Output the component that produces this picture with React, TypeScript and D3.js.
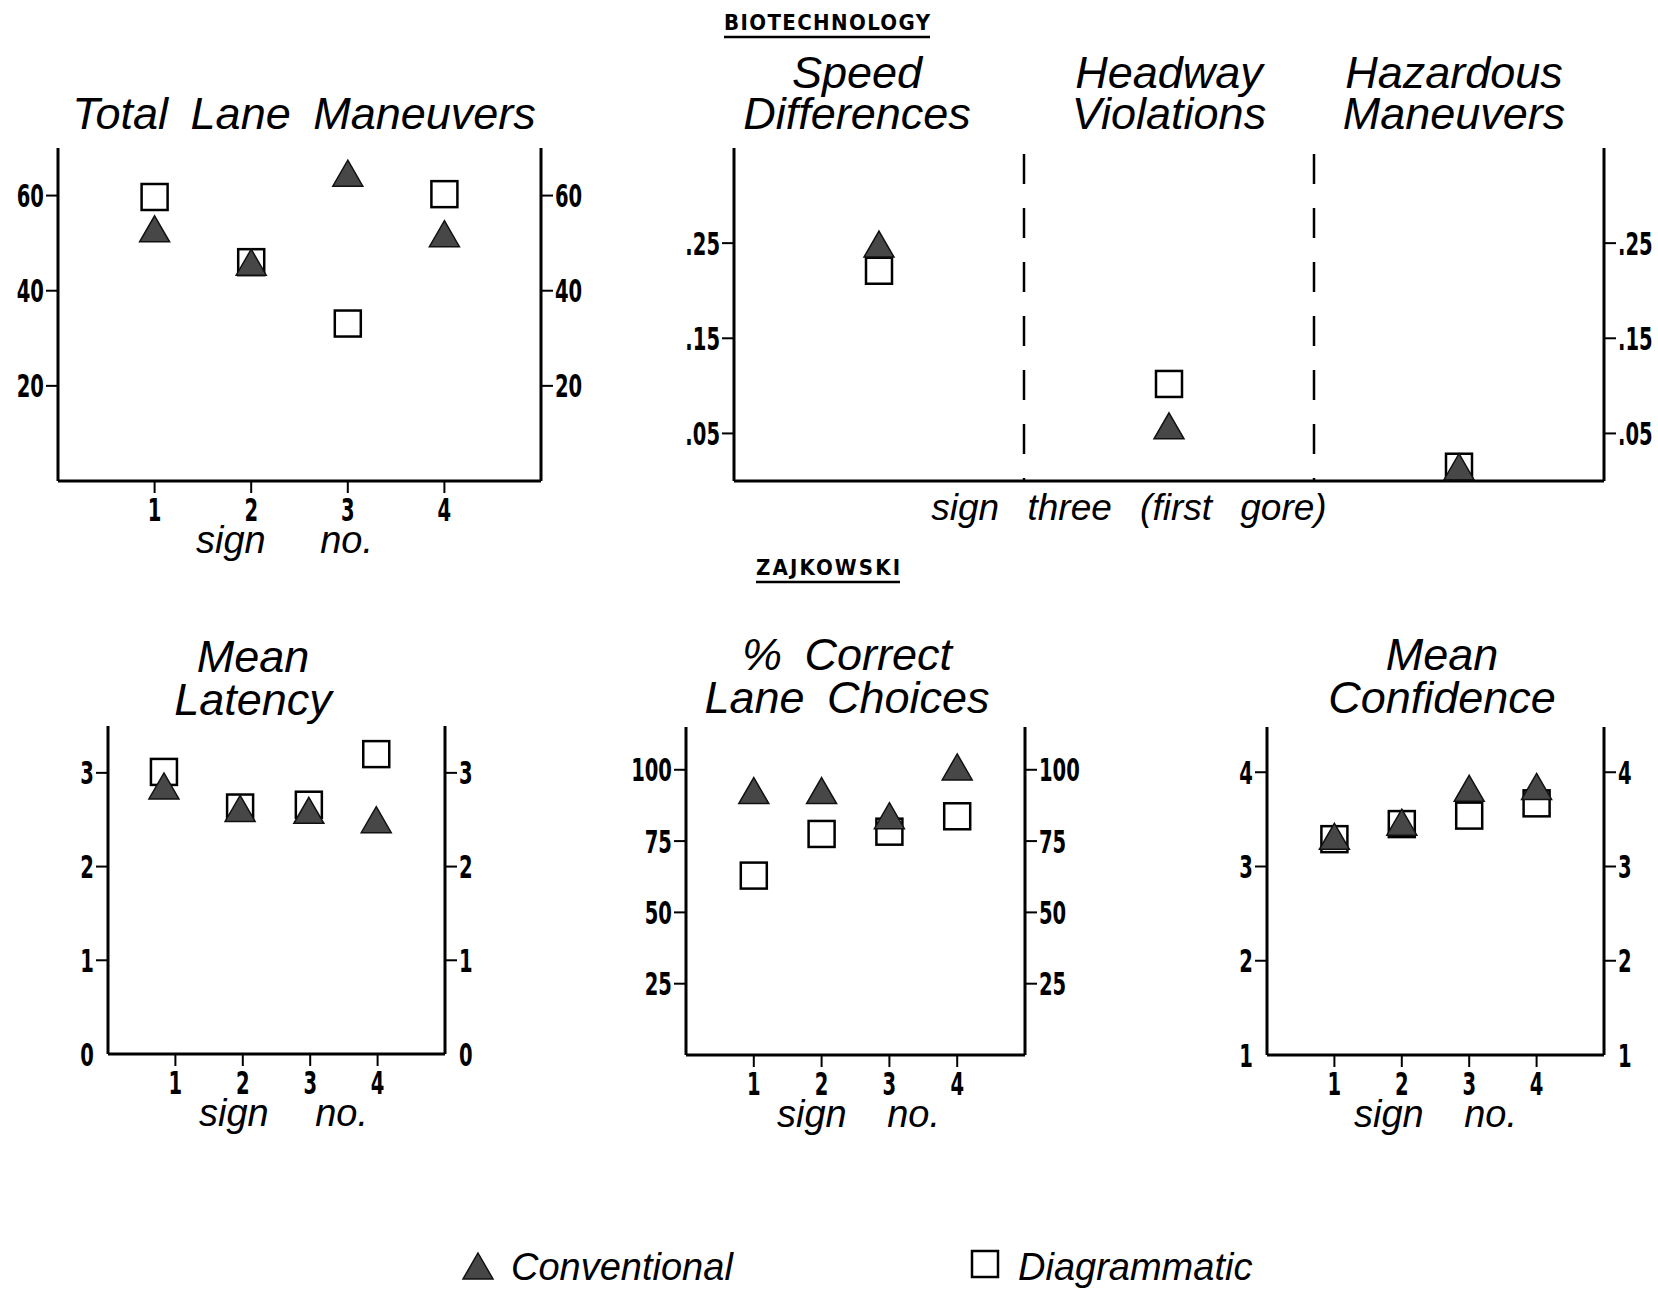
import React from 'react';
import * as d3 from 'd3';

// sign numbers along the x axis of the four sign panels
const signs = [1, 2, 3, 4];
const latencySignX = [0.83, 1.96, 2.98, 3.98];

// BIOTECHNOLOGY: total lane maneuvers
const maneuversConventional = [53, 46, 64.7, 52];
const maneuversDiagrammatic = [59.7, 46, 33.1, 60.3];
const maneuverTicks = [20, 40, 60];

// BIOTECHNOLOGY: sign three (first gore)
const bioMeasures = ['Speed Differences', 'Headway Violations', 'Hazardous Maneuvers'];
const bioConventional = [0.249, 0.058, 0.015];
const bioDiagrammatic = [0.221, 0.102, 0.015];
const bioTicks = [0.05, 0.15, 0.25];

// ZAJKOWSKI
const latencyConventional = [2.86, 2.62, 2.6, 2.5];
const latencyDiagrammatic = [3.01, 2.63, 2.66, 3.2];
const latencyTicks = [0, 1, 2, 3];

const correctConventional = [92.7, 92.7, 83.9, 101];
const correctDiagrammatic = [62.9, 77.5, 78.3, 83.7];
const correctTicks = [25, 50, 75, 100];

const confidenceConventional = [3.32, 3.47, 3.83, 3.85];
const confidenceDiagrammatic = [3.29, 3.45, 3.54, 3.67];
const confidenceTicks = [1, 2, 3, 4];

const legendLabels = ['Conventional', 'Diagrammatic'];

const W = 1658;
const H = 1291;
const titleFont = "'Liberation Sans', Arial, sans-serif";
const tickFont = "'Liberation Sans Narrow', 'DejaVu Sans Condensed', sans-serif";
const triFill = '#474747';

const SQ = 26;
const TW = 30;
const TH = 26;

const triPath = `M0,${-TH / 2}L${TW / 2},${TH / 2}L${-TW / 2},${TH / 2}Z`;

const Square = ({ cx, cy }: { cx: number; cy: number }) => (
  <rect x={cx - SQ / 2} y={cy - SQ / 2} width={SQ} height={SQ} fill="#fff" stroke="#000" strokeWidth={2.5} />
);
const Triangle = ({ cx, cy }: { cx: number; cy: number }) => (
  <path d={triPath} transform={`translate(${cx},${cy})`} fill={triFill} stroke="#111" strokeWidth={1.5} />
);

// condensed bold digits, squeezed horizontally like the originals
const Narrow = ({ x, y, anchor, dy, children }: { x: number; y: number; anchor: string; dy?: string; children: React.ReactNode }) => (
  <text transform={`translate(${x},${y}) scale(0.68,1)`} dy={dy} textAnchor={anchor} fontFamily={tickFont}
    fontWeight="bold" fontSize={32}>{children}</text>
);

interface YAxisProps {
  y: d3.ScaleLinear<number, number>;
  x0: number;
  x1: number;
  ticks: number[];
  fmt: (v: number) => string;
}

const YAxes = ({ y, x0, x1, ticks, fmt }: YAxisProps) => {
  const [lo, hi] = y.domain();
  return (
    <g>
      <line x1={x0} x2={x0} y1={y(lo)} y2={y(hi)} stroke="#000" strokeWidth={3} />
      <line x1={x1} x2={x1} y1={y(lo)} y2={y(hi)} stroke="#000" strokeWidth={3} />
      <line x1={x0} x2={x1} y1={y(lo)} y2={y(lo)} stroke="#000" strokeWidth={3} />
      {ticks.map(t => (
        <g key={t}>
          {t !== lo && <line x1={x0 - 12} x2={x0} y1={y(t)} y2={y(t)} stroke="#000" strokeWidth={2} />}
          {t !== lo && <line x1={x1} x2={x1 + 12} y1={y(t)} y2={y(t)} stroke="#000" strokeWidth={2} />}
          <Narrow x={x0 - 14} y={y(t)} dy="0.36em" anchor="end">{fmt(t)}</Narrow>
          <Narrow x={x1 + 14} y={y(t)} dy="0.36em" anchor="start">{fmt(t)}</Narrow>
        </g>
      ))}
    </g>
  );
};

interface SignPanelProps {
  x0: number;
  x1: number;
  yBottom: number;
  yTop: number;
  domain: [number, number];
  ticks: number[];
  title: string[];
  titleX: number;
  titleY: number;
  labelShift: number;
  labelGap: number;
  conv: number[];
  diag: number[];
  xs: number[];
}

const SignPanel = (p: SignPanelProps) => {
  const x = d3.scaleLinear().domain([0, 5]).range([p.x0, p.x1]);
  const y = d3.scaleLinear().domain(p.domain).range([p.yBottom, p.yTop]);
  return (
    <g>
      {p.title.map((t, i) => (
        <text key={t} x={p.titleX} y={p.titleY + i * 43} textAnchor="middle" fontFamily={titleFont}
          fontStyle="italic" fontSize={45} wordSpacing={10}>{t}</text>
      ))}
      <YAxes y={y} x0={p.x0} x1={p.x1} ticks={p.ticks} fmt={d => String(d)} />
      {signs.map(s => (
        <g key={s}>
          <line x1={x(s)} x2={x(s)} y1={p.yBottom} y2={p.yBottom + 12} stroke="#000" strokeWidth={2} />
          <Narrow x={x(s)} y={p.yBottom + 40} anchor="middle">{s}</Narrow>
        </g>
      ))}
      <text x={x(2.5) + p.labelShift} y={p.yBottom + 72} textAnchor="middle" fontFamily={titleFont} fontStyle="italic"
        fontSize={38} wordSpacing={p.labelGap}>sign no.</text>
      {p.diag.map((v, i) => <Square key={'d' + i} cx={x(p.xs[i])} cy={y(v)} />)}
      {p.conv.map((v, i) => <Triangle key={'c' + i} cx={x(p.xs[i])} cy={y(v)} />)}
    </g>
  );
};

const BioPanel = () => {
  const x0 = 734;
  const x1 = 1604;
  const x = d3.scaleBand().domain(bioMeasures).range([x0, x1]);
  const y = d3.scaleLinear().domain([0, 0.35]).range([481, 148]);
  const cx = (m: string) => (x(m) ?? 0) + x.bandwidth() / 2;
  const titleShift = [-22, 0, -5];
  return (
    <g>
      {bioMeasures.map((m, k) => m.split(' ').map((w, i) => (
        <text key={m + w} x={cx(m) + titleShift[k]} y={88 + i * 41} textAnchor="middle" fontFamily={titleFont}
          fontStyle="italic" fontSize={45}>{w}</text>
      )))}
      <YAxes y={y} x0={x0} x1={x1} ticks={bioTicks} fmt={d => d3.format('.2f')(d).replace(/^0/, '')} />
      {bioMeasures.slice(1).map(m => (
        <line key={m} x1={x(m)} x2={x(m)} y1={y(0.35) + 6} y2={y(0)} stroke="#000" strokeWidth={2.5} strokeDasharray="30,24" />
      ))}
      <text x={(x0 + x1) / 2 - 40} y={520} textAnchor="middle" fontFamily={titleFont} fontStyle="italic"
        fontSize={37} wordSpacing={18}>sign three (first gore)</text>
      {bioMeasures.map((m, i) => <Square key={'d' + m} cx={cx(m)} cy={y(bioDiagrammatic[i])} />)}
      {bioMeasures.map((m, i) => <Triangle key={'c' + m} cx={cx(m)} cy={y(bioConventional[i])} />)}
    </g>
  );
};

const Heading = ({ label, x, y, len }: { label: string; x: number; y: number; len: number }) => (
  <g>
    <text x={x} y={y} textAnchor="middle" fontFamily={tickFont} fontWeight="bold" fontSize={22} textLength={len}
      lengthAdjust="spacing">{label}</text>
    <line x1={x - len / 2} x2={x + len / 2} y1={y + 7} y2={y + 7} stroke="#000" strokeWidth={2.5} />
  </g>
);

export default function App() {
  return (
    <svg width={W} height={H} style={{ position: 'absolute', left: 0, top: 0, background: '#fff' }}>
      <Heading label="BIOTECHNOLOGY" x={827} y={30} len={206} />
      <Heading label="ZAJKOWSKI" x={828} y={575} len={144} />

      <SignPanel x0={58} x1={541} yBottom={481} yTop={148} domain={[0, 70]} ticks={maneuverTicks}
        title={['Total Lane Maneuvers']} titleX={304} titleY={129} labelShift={-15} labelGap={44}
        conv={maneuversConventional} diag={maneuversDiagrammatic} xs={signs} />
      <BioPanel />

      <SignPanel x0={108} x1={445} yBottom={1054} yTop={726} domain={[0, 3.5]} ticks={latencyTicks}
        title={['Mean', 'Latency']} titleX={253} titleY={672} labelShift={7} labelGap={36}
        conv={latencyConventional} diag={latencyDiagrammatic} xs={latencySignX} />
      <SignPanel x0={686} x1={1025} yBottom={1055} yTop={727} domain={[0, 115]} ticks={correctTicks}
        title={['% Correct', 'Lane Choices']} titleX={847} titleY={670} labelShift={3} labelGap={30}
        conv={correctConventional} diag={correctDiagrammatic} xs={signs} />
      <SignPanel x0={1267} x1={1604} yBottom={1055} yTop={727} domain={[1, 4.48]} ticks={confidenceTicks}
        title={['Mean', 'Confidence']} titleX={1442} titleY={670} labelShift={0} labelGap={30}
        conv={confidenceConventional} diag={confidenceDiagrammatic} xs={signs} />

      <g>
        <Triangle cx={478} cy={1266} />
        <text x={511} y={1280} fontFamily={titleFont} fontStyle="italic" fontSize={38}>{legendLabels[0]}</text>
        <Square cx={985} cy={1264} />
        <text x={1018} y={1280} fontFamily={titleFont} fontStyle="italic" fontSize={38}>{legendLabels[1]}</text>
      </g>
    </svg>
  );
}
